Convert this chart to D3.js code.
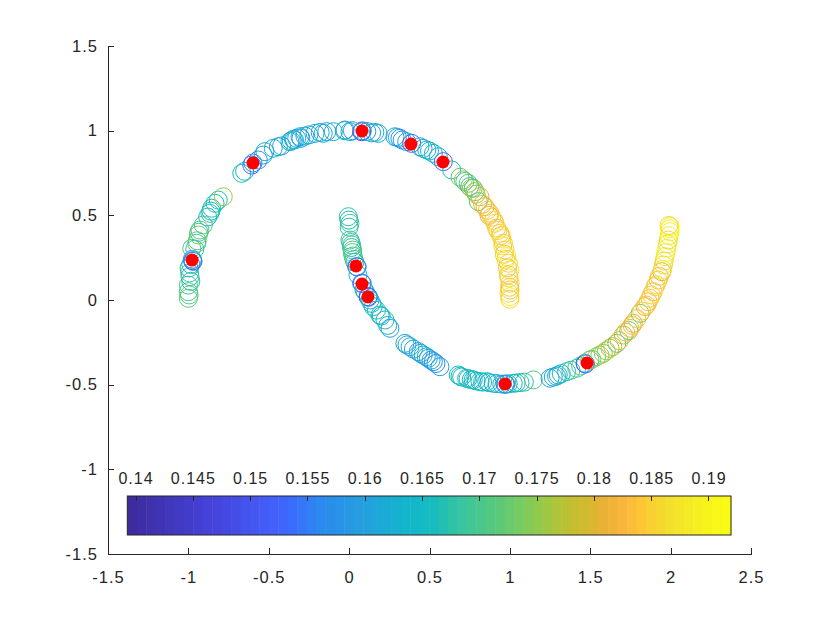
<!DOCTYPE html>
<html>
<head>
<meta charset="utf-8">
<script src="https://cdn.jsdelivr.net/npm/d3@7"></script>
<style>
  body { margin: 0; background: #fff; }
  text { font-family: "Liberation Sans", Arial, sans-serif; fill: #262626; }
</style>
</head>
<body>
<svg id="chart" width="830" height="623"></svg>
<script>
// upper moon
var upperX = [-1.000,-0.995,-1.000,-1.000,-0.985,-0.990,-0.992,-0.996,-0.985,-0.973,-0.971,-0.975,-0.979,-0.960,-0.948,-0.945,-0.938,-0.935,-0.928,-0.907,
  -0.880,-0.866,-0.860,-0.855,-0.834,-0.814,-0.783,-0.668,-0.650,-0.606,-0.598,-0.565,-0.534,-0.524,-0.472,-0.440,-0.420,-0.368,-0.360,-0.347,
  -0.340,-0.326,-0.306,-0.300,-0.275,-0.250,-0.212,-0.180,-0.161,-0.139,-0.098,-0.030,-0.025,0.005,0.020,0.078,0.082,0.110,0.140,0.160,
  0.181,0.285,0.300,0.316,0.330,0.358,0.389,0.441,0.460,0.483,0.500,0.524,0.555,0.586,0.638,0.690,0.710,0.720,0.741,0.750,
  0.760,0.772,0.783,0.790,0.814,0.804,0.830,0.845,0.860,0.870,0.876,0.887,0.900,0.908,0.918,0.925,0.939,0.945,0.950,0.955,
  0.960,0.965,0.970,0.975,0.981,0.985,0.991,1.001,0.991,0.995,1.001,0.998,1.001,0.995,1.001,1.000];
var upperY = [0.010,0.030,0.049,0.088,0.110,0.138,0.160,0.189,0.210,0.232,0.228,0.240,0.305,0.300,0.335,0.350,0.384,0.400,0.413,0.443,
  0.490,0.512,0.525,0.542,0.571,0.590,0.610,0.748,0.760,0.797,0.809,0.827,0.856,0.876,0.896,0.905,0.910,0.935,0.940,0.949,
  0.945,0.955,0.964,0.955,0.968,0.975,0.984,0.990,0.984,0.994,0.994,1.000,1.004,0.994,1.000,0.994,0.999,0.995,0.987,0.990,
  0.984,0.964,0.960,0.955,0.945,0.935,0.925,0.905,0.895,0.886,0.880,0.866,0.846,0.817,0.768,0.725,0.709,0.700,0.689,0.670,
  0.660,0.660,0.640,0.625,0.610,0.581,0.565,0.551,0.530,0.500,0.512,0.489,0.470,0.453,0.424,0.410,0.394,0.380,0.364,0.320,
  0.335,0.270,0.295,0.240,0.256,0.190,0.217,0.177,0.148,0.130,0.099,0.075,0.059,0.040,0.020,0.005];
var upperC = [0.172,0.171,0.170,0.169,0.168,0.168,0.169,0.167,0.166,0.152,0.155,0.157,0.170,0.168,0.171,0.170,0.173,0.169,0.172,0.170,
  0.166,0.168,0.164,0.167,0.166,0.167,0.176,0.166,0.165,0.153,0.156,0.158,0.160,0.161,0.162,0.160,0.161,0.163,0.162,0.160,
  0.164,0.161,0.162,0.159,0.160,0.162,0.161,0.160,0.163,0.160,0.162,0.163,0.161,0.163,0.160,0.147,0.156,0.158,0.161,0.162,
  0.162,0.160,0.161,0.158,0.159,0.161,0.152,0.162,0.160,0.163,0.165,0.164,0.162,0.153,0.166,0.172,0.176,0.170,0.172,0.168,
  0.178,0.170,0.174,0.176,0.180,0.172,0.182,0.181,0.184,0.181,0.183,0.184,0.185,0.186,0.183,0.186,0.185,0.183,0.187,0.187,
  0.184,0.184,0.186,0.186,0.188,0.183,0.185,0.187,0.184,0.186,0.185,0.184,0.183,0.186,0.188,0.185];

// lower moon
var lowerX = [-0.005,-0.001,0.005,0.000,0.005,0.010,0.016,0.015,0.022,0.020,0.024,0.030,0.036,0.047,0.050,0.055,0.078,0.082,0.093,0.100,
  0.120,0.118,0.130,0.140,0.150,0.170,0.192,0.200,0.223,0.240,0.254,0.347,0.360,0.379,0.400,0.430,0.445,0.461,0.480,0.493,
  0.510,0.524,0.540,0.565,0.679,0.690,0.700,0.731,0.740,0.760,0.772,0.790,0.814,0.830,0.856,0.870,0.897,0.920,0.950,0.970,
  0.975,0.990,1.021,1.040,1.063,1.090,1.146,1.250,1.270,1.290,1.301,1.320,1.353,1.380,1.416,1.440,1.467,1.470,1.498,1.510,
  1.540,1.560,1.581,1.600,1.623,1.640,1.665,1.680,1.706,1.720,1.740,1.747,1.760,1.768,1.790,1.810,1.820,1.841,1.850,1.860,
  1.872,1.880,1.892,1.903,1.910,1.923,1.930,1.945,1.950,1.955,1.960,1.965,1.970,1.976,1.980,1.986,1.990,1.997,1.995,1.997,1.990];
var lowerY = [0.492,0.472,0.453,0.430,0.354,0.340,0.325,0.310,0.295,0.280,0.260,0.240,0.224,0.197,0.195,0.148,0.099,0.097,0.059,0.050,
  0.016,0.020,0.000,-0.020,-0.039,-0.060,-0.089,-0.095,-0.118,-0.150,-0.167,-0.256,-0.265,-0.276,-0.290,-0.305,-0.315,-0.325,-0.335,-0.344,
  -0.355,-0.364,-0.375,-0.394,-0.443,-0.450,-0.455,-0.462,-0.465,-0.470,-0.472,-0.478,-0.482,-0.485,-0.482,-0.488,-0.492,-0.494,-0.497,-0.496,
  -0.498,-0.495,-0.492,-0.490,-0.488,-0.485,-0.472,-0.462,-0.455,-0.450,-0.443,-0.435,-0.423,-0.415,-0.403,-0.390,-0.374,-0.378,-0.354,-0.350,
  -0.335,-0.325,-0.315,-0.300,-0.285,-0.275,-0.256,-0.240,-0.207,-0.190,-0.180,-0.167,-0.150,-0.138,-0.110,-0.079,-0.065,-0.039,-0.030,-0.010,
  0.010,0.030,0.049,0.079,0.090,0.118,0.140,0.167,0.180,0.207,0.230,0.256,0.280,0.305,0.330,0.354,0.380,0.403,0.420,0.433,0.440];
var lowerC = [0.168,0.166,0.170,0.167,0.169,0.168,0.171,0.166,0.170,0.171,0.169,0.170,0.168,0.153,0.157,0.166,0.152,0.156,0.163,0.165,
  0.154,0.151,0.163,0.166,0.165,0.167,0.166,0.164,0.167,0.163,0.160,0.161,0.160,0.162,0.161,0.160,0.159,0.163,0.162,0.161,
  0.160,0.158,0.157,0.159,0.165,0.166,0.164,0.164,0.167,0.163,0.166,0.165,0.165,0.166,0.164,0.163,0.163,0.164,0.162,0.155,
  0.158,0.164,0.162,0.165,0.167,0.168,0.171,0.160,0.161,0.162,0.163,0.165,0.167,0.168,0.170,0.170,0.156,0.153,0.172,0.174,
  0.173,0.176,0.175,0.174,0.177,0.178,0.172,0.181,0.176,0.182,0.172,0.183,0.183,0.181,0.184,0.173,0.185,0.182,0.184,0.183,
  0.184,0.186,0.183,0.185,0.185,0.184,0.183,0.180,0.187,0.186,0.186,0.187,0.189,0.188,0.187,0.186,0.188,0.189,0.191,0.190,0.186];

// labelled points (red)
var labelX = [-0.598, 0.080, 0.385, 0.584, -0.977, 0.043, 0.080, 0.117, 0.970, 1.480];
var labelY = [0.809, 0.998, 0.921, 0.815, 0.236, 0.201, 0.094, 0.018, -0.496, -0.372];

var xTicks = [-1.5, -1, -0.5, 0, 0.5, 1, 1.5, 2, 2.5];
var yTicks = [-1.5, -1, -0.5, 0, 0.5, 1, 1.5];
var cbarTicks = [0.14, 0.145, 0.15, 0.155, 0.16, 0.165, 0.17, 0.175, 0.18, 0.185, 0.19];
var cLimits = [0.13924, 0.19192];

// parula-like colormap
var cmapT = [0, 0.14, 0.236, 0.27, 0.314, 0.39, 0.463, 0.50, 0.556, 0.612, 0.655, 0.695, 0.738, 0.766, 0.795, 0.828, 0.861, 0.899, 0.944, 1];
var cmapCol = ["#3e2c9f","#4544dd","#4360fa","#3c6cfd","#2c88f0","#24a0de","#12b6cc","#14bbc2","#38c59f","#58c97b",
  "#78cc62","#9dc844","#c0c02f","#d4b92d","#eab236","#fcb53c","#fcc834","#f3dd2d","#f5ee22","#f9fb14"];

var nColors = 64;
var cmapScale = d3.scaleLinear().domain(cmapT).range(cmapCol).interpolate(d3.interpolateRgb);
var colors = d3.range(nColors).map(function (i) { return cmapScale(i / (nColors - 1)); });

function colorOf(v) {
  var i = Math.floor((v - cLimits[0]) / (cLimits[1] - cLimits[0]) * nColors);
  return colors[Math.max(0, Math.min(nColors - 1, i))];
}

// plain hyphen minus like the original
function fmt(d) { return String(d); }

var svg = d3.select("#chart");
var axisColor = "#262626";

var x = d3.scaleLinear().domain([-1.5, 2.5]).range([108, 751]);
var y = d3.scaleLinear().domain([-1.5, 1.5]).range([554, 46]);

var pts = [];
upperX.forEach(function (v, i) { pts.push({ x: v, y: upperY[i], c: upperC[i] }); });
lowerX.forEach(function (v, i) { pts.push({ x: v, y: lowerY[i], c: lowerC[i] }); });

svg.append("g")
  .selectAll("circle")
  .data(pts)
  .enter()
  .append("circle")
  .attr("cx", function (d) { return x(d.x); })
  .attr("cy", function (d) { return y(d.y); })
  .attr("r", 9)
  .attr("fill", "none")
  .attr("stroke", function (d) { return colorOf(d.c); })
  .attr("stroke-width", 1);

svg.append("g")
  .selectAll("circle")
  .data(labelX)
  .enter()
  .append("circle")
  .attr("cx", function (d) { return x(d); })
  .attr("cy", function (d, i) { return y(labelY[i]); })
  .attr("r", 6.5)
  .attr("fill", "#ff0000");

// axes, ticks pointing inwards
var gx = svg.append("g")
  .attr("transform", "translate(0," + y(-1.5) + ")")
  .call(d3.axisBottom(x).tickValues(xTicks).tickFormat(fmt).tickSizeInner(-6).tickSizeOuter(0).tickPadding(17.5));
var gy = svg.append("g")
  .attr("transform", "translate(" + x(-1.5) + ",0)")
  .call(d3.axisLeft(y).tickValues(yTicks).tickFormat(fmt).tickSizeInner(-6).tickSizeOuter(0).tickPadding(10));

[gx, gy].forEach(function (g) {
  g.selectAll("path,line").attr("stroke", axisColor).attr("shape-rendering", "crispEdges");
  g.selectAll("text")
    .attr("fill", axisColor)
    .style("font-family", '"Liberation Sans", Arial, sans-serif')
    .style("font-size", "16.5px")
    .style("letter-spacing", "1px");
});

// colorbar inside the axes
var cb = { x0: 127.3, x1: 731, top: 496, bottom: 535 };
var cx = d3.scaleLinear().domain(cLimits).range([cb.x0, cb.x1]);
var band = (cLimits[1] - cLimits[0]) / nColors;

var gcb = svg.append("g");
gcb.selectAll("rect.band")
  .data(colors)
  .enter()
  .append("rect")
  .attr("class", "band")
  .attr("x", function (d, i) { return cx(cLimits[0] + i * band); })
  .attr("width", function (d, i) { return cx(cLimits[0] + (i + 1) * band) - cx(cLimits[0] + i * band) + 0.5; })
  .attr("y", cb.top)
  .attr("height", cb.bottom - cb.top)
  .attr("fill", function (d) { return d; });

gcb.append("rect")
  .attr("x", cb.x0)
  .attr("y", cb.top)
  .attr("width", cb.x1 - cb.x0)
  .attr("height", cb.bottom - cb.top)
  .attr("fill", "none")
  .attr("stroke", axisColor)
  .attr("stroke-width", 1);

gcb.selectAll("line.tick")
  .data(cbarTicks)
  .enter()
  .append("line")
  .attr("class", "tick")
  .attr("x1", function (d) { return cx(d); })
  .attr("x2", function (d) { return cx(d); })
  .attr("y1", cb.top)
  .attr("y2", cb.top + 5)
  .attr("stroke", axisColor)
  .attr("shape-rendering", "crispEdges");

gcb.selectAll("text")
  .data(cbarTicks)
  .enter()
  .append("text")
  .attr("x", function (d) { return cx(d); })
  .attr("y", 484)
  .attr("text-anchor", "middle")
  .style("font-size", "16px")
  .style("letter-spacing", "1px")
  .text(fmt);
</script>
</body>
</html>
